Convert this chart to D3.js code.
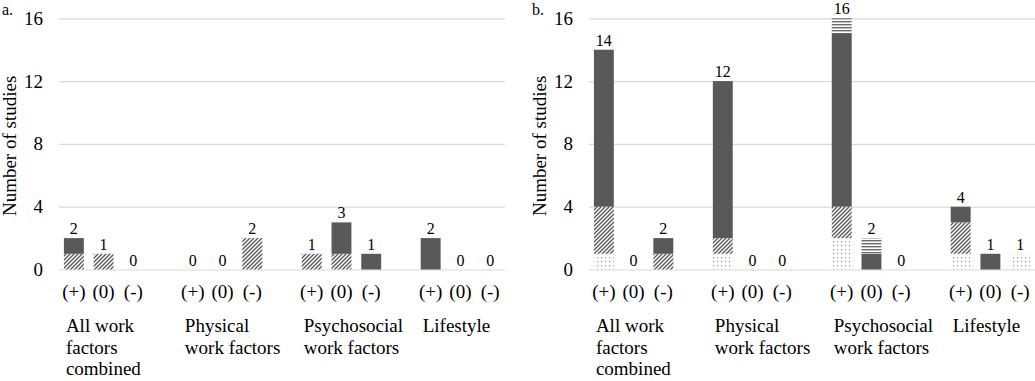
<!DOCTYPE html>
<html>
<head>
<meta charset="utf-8">
<script src="https://cdn.jsdelivr.net/npm/d3@7"></script>
<style>
  html, body { margin: 0; padding: 0; background: #fff; }
</style>
</head>
<body>
<svg id="chart" width="1035" height="381"></svg>
<script>
// ---- data ----
const groups = ["All work factors combined", "Physical work factors", "Psychosocial work factors", "Lifestyle"];
const groupLines = [["All work", "factors", "combined"], ["Physical", "work factors"], ["Psychosocial", "work factors"], ["Lifestyle"]];
const directions = ["(+)", "(0)", "(-)"];
const seriesKeys = ["dotted", "hatched", "solid", "striped"];
const yTicks = [0, 4, 8, 12, 16];
const panelLabels = ["a.", "b."];

// values per bar, order: group x direction
const aDotted  = [0, 0, 0,  0, 0, 0,  0, 0, 0,  0, 0, 0];
const aHatched = [1, 1, 0,  0, 0, 2,  1, 1, 0,  0, 0, 0];
const aSolid   = [1, 0, 0,  0, 0, 0,  0, 2, 1,  2, 0, 0];
const aStriped = [0, 0, 0,  0, 0, 0,  0, 0, 0,  0, 0, 0];

const bDotted  = [1, 0, 0,  1, 0, 0,  2, 0, 0,  1, 0, 1];
const bHatched = [3, 0, 1,  1, 0, 0,  2, 0, 0,  2, 0, 0];
const bSolid   = [10, 0, 1, 10, 0, 0, 11, 1, 0, 1, 1, 0];
const bStriped = [0, 0, 0,  0, 0, 0,  1, 1, 0,  0, 0, 0];

const panels = [
  { label: panelLabels[0], series: [aDotted, aHatched, aSolid, aStriped], x0: 59 },
  { label: panelLabels[1], series: [bDotted, bHatched, bSolid, bStriped], x0: 589 }
];

// ---- drawing ----
const FONT = "'Liberation Serif'";
const svg = d3.select("#chart");
const plotW = 446;
const yTop = 18.3, yBottom = 269.5;
const dark = "#595959";

function txt(sel, size) {
  return sel.attr("fill", "#000").style("font-family", FONT).style("font-size", size + "px");
}

// patterns
const defs = svg.append("defs");
const pHatch = defs.append("pattern").attr("id", "p-hatched")
  .attr("patternUnits", "userSpaceOnUse").attr("width", 4).attr("height", 4);
pHatch.append("rect").attr("width", 4).attr("height", 4).attr("fill", "#fff");
pHatch.append("path").attr("d", "M-1,1 l2,-2 M0,4 l4,-4 M3,5 l2,-2")
  .attr("stroke", "#5a5a5a").attr("stroke-width", 1.4);

const pDot = defs.append("pattern").attr("id", "p-dotted")
  .attr("patternUnits", "userSpaceOnUse").attr("width", 4).attr("height", 4);
pDot.append("rect").attr("width", 4).attr("height", 4).attr("fill", "#fff");
pDot.append("rect").attr("x", 1).attr("y", 1).attr("width", 1.2).attr("height", 1.2).attr("fill", "#999");

const pStripe = defs.append("pattern").attr("id", "p-striped")
  .attr("patternUnits", "userSpaceOnUse").attr("width", 4).attr("height", 3);
pStripe.append("rect").attr("width", 4).attr("height", 3).attr("fill", "#fff");
pStripe.append("rect").attr("y", 0).attr("width", 4).attr("height", 1.4).attr("fill", "#6a6a6a");

const fills = { dotted: "url(#p-dotted)", hatched: "url(#p-hatched)", solid: dark, striped: "url(#p-striped)" };

// slot domain (with empty slot between groups)
const slots = [];
groups.forEach((g, gi) => {
  directions.forEach((d, di) => slots.push(gi + "|" + di));
  if (gi < groups.length - 1) slots.push("gap" + gi);
});

const y = d3.scaleLinear().domain([0, 16]).range([yBottom, yTop]);

panels.forEach(panel => {
  const x = d3.scaleBand().domain(slots)
    .range([panel.x0, panel.x0 + plotW])
    .paddingInner(0.33).paddingOuter(0.165);

  // grid + y tick labels
  const axis = d3.axisLeft(y).tickValues(yTicks).tickSizeInner(-plotW).tickSizeOuter(0).tickPadding(16);
  const ax = svg.append("g").attr("transform", `translate(${panel.x0},0)`).call(axis);
  ax.attr("font-family", null).attr("font-size", null);
  ax.select(".domain").remove();
  ax.selectAll(".tick line").attr("stroke", "#d9d9d9").attr("stroke-width", 1.2);
  txt(ax.selectAll(".tick text"), 19);

  // axis title
  txt(svg.append("text")
    .attr("transform", `translate(${panel.x0 - 50},${(yTop + yBottom) / 2 + 2}) rotate(-90)`)
    .attr("text-anchor", "middle").attr("dy", "0.35em"), 19)
    .text("Number of studies");

  // panel label
  txt(svg.append("text").attr("x", panel.x0 - 57).attr("y", 15), 16).text(panel.label);

  // rows for stacking
  const rows = [];
  groups.forEach((gr, gi) => directions.forEach((d, di) => {
    const idx = gi * 3 + di;
    const row = { key: gi + "|" + di, dir: d };
    seriesKeys.forEach((s, si) => row[s] = panel.series[si][idx]);
    rows.push(row);
  }));
  const stacked = d3.stack().keys(seriesKeys)(rows);

  stacked.forEach(layer => {
    svg.append("g").selectAll("rect")
      .data(layer.filter(d => d[1] - d[0] > 0))
      .join("rect")
      .attr("x", d => x(d.data.key))
      .attr("width", x.bandwidth())
      .attr("y", d => y(d[1]))
      .attr("height", d => y(d[0]) - y(d[1]))
      .attr("fill", fills[layer.key]);
  });

  // value labels
  rows.forEach(d => {
    const total = seriesKeys.reduce((s, k) => s + d[k], 0);
    txt(svg.append("text")
      .attr("x", x(d.key) + x.bandwidth() / 2)
      .attr("y", y(total) - 4)
      .attr("text-anchor", "middle"), 16)
      .text(total);
    txt(svg.append("text")
      .attr("x", x(d.key) + x.bandwidth() / 2)
      .attr("y", 298)
      .attr("text-anchor", "middle"), 19)
      .text(d.dir);
  });

  // group labels (one text element per line)
  groups.forEach((gr, gi) => {
    groupLines[gi].forEach((line, li) => {
      txt(svg.append("text")
        .attr("x", x(gi + "|0") + 2)
        .attr("y", 332 + li * 21.5), 19)
        .text(line);
    });
  });
});
</script>
</body>
</html>
